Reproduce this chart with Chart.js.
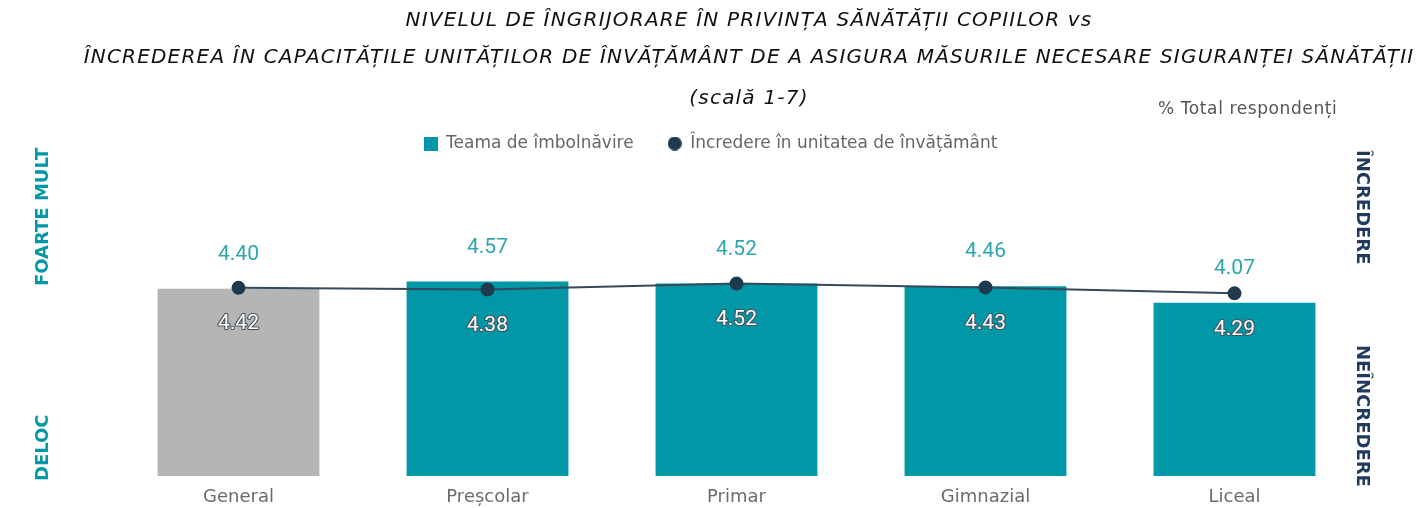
<!DOCTYPE html>
<html>
<head>
<meta charset="utf-8">
<script src="https://cdn.jsdelivr.net/npm/chart.js@4"></script>
<style>
  body { margin: 0; background: #fff; }
  #wrap { position: relative; width: 1418px; height: 508px; overflow: hidden; }
  #myChart { position: absolute; left: 0; top: 0; }
  .title { position: absolute; left: 749px; transform: translateX(-50%); white-space: nowrap;
           font-family: "DejaVu Sans", sans-serif; font-style: italic; font-size: 20px;
           letter-spacing: 1.2px; color: #111; }
  .note { position: absolute; left: 1158px; top: 98px; font-family: "DejaVu Sans", sans-serif;
          font-size: 17px; letter-spacing: 0.6px; color: #555; white-space: nowrap; }
  .side { position: absolute; font-family: "DejaVu Sans", sans-serif; font-weight: bold;
          font-size: 18px; white-space: nowrap; transform-origin: 0 0; }
  .left { color: #0097a7; transform: rotate(-90deg); }
  .right { color: #1f3a5c; transform: rotate(90deg); }
</style>
</head>
<body>
<div id="wrap">
  <canvas id="myChart" width="1418" height="508"></canvas>
  <div class="title" style="top:7px">NIVELUL DE ÎNGRIJORARE ÎN PRIVINȚA SĂNĂTĂȚII COPIILOR vs</div>
  <div class="title" style="top:44px">ÎNCREDEREA ÎN CAPACITĂȚILE UNITĂȚILOR DE ÎNVĂȚĂMÂNT DE A ASIGURA MĂSURILE NECESARE SIGURANȚEI SĂNĂTĂȚII</div>
  <div class="title" style="top:85px">(scală 1-7)</div>
  <div class="note">% Total respondenți</div>
  <div class="side left" style="left:31px; top:286px">FOARTE MULT</div>
  <div class="side left" style="left:31px; top:481px">DELOC</div>
  <div class="side right" style="left:1374px; top:150px">ÎNCREDERE</div>
  <div class="side right" style="left:1374px; top:345px">NEÎNCREDERE</div>
</div>
<script>
const categories = ["General", "Preșcolar", "Primar", "Gimnazial", "Liceal"];
const fearValues = [4.40, 4.57, 4.52, 4.46, 4.07];
const trustValues = [4.42, 4.38, 4.52, 4.43, 4.29];
const seriesNames = ["Teama de îmbolnăvire", "Încredere în unitatea de învățământ"];

const teal = "#0097a7";
const gray = "#b5b5b5";
const navy = "#1f3a4f";

// small legend markers, same size for square and dot
function marker(shape, color) {
  const c = document.createElement('canvas');
  c.width = 14;
  c.height = 14;
  const g = c.getContext('2d');
  g.fillStyle = color;
  if (shape === 'square') {
    g.fillRect(0, 0, 14, 14);
  } else {
    g.beginPath();
    g.arc(7, 7, 7, 0, Math.PI * 2);
    g.fill();
  }
  return c;
}
const squareMark = marker('square', teal);
const dotMark = marker('dot', navy);

// legend is a bit taller in the original, push the plot down
const legendSpacer = {
  id: 'legendSpacer',
  beforeInit(chart) {
    const origFit = chart.legend.fit;
    chart.legend.fit = function fit() {
      origFit.bind(chart.legend)();
      this.height += 16;
    };
  }
};

// value labels: bar values above the bars, trust values under the points
const valueLabels = {
  id: 'valueLabels',
  afterDatasetsDraw(chart) {
    const ctx = chart.ctx;
    ctx.save();
    ctx.textAlign = 'center';
    ctx.textBaseline = 'middle';
    ctx.font = '21px Roboto';

    chart.getDatasetMeta(0).data.forEach((bar, i) => {
      ctx.fillStyle = '#2ea6ae';
      ctx.fillText(fearValues[i].toFixed(2), bar.x, bar.y - 34);
    });

    chart.getDatasetMeta(1).data.forEach((pt, i) => {
      const txt = trustValues[i].toFixed(2);
      ctx.lineWidth = 2.2;
      ctx.strokeStyle = '#45525c';
      ctx.lineJoin = 'round';
      ctx.strokeText(txt, pt.x, pt.y + 36);
      ctx.fillStyle = '#fff';
      ctx.fillText(txt, pt.x, pt.y + 36);
    });
    ctx.restore();
  }
};

new Chart("myChart", {
  type: "bar",
  data: {
    labels: categories,
    datasets: [{
      type: "bar",
      label: seriesNames[0],
      data: fearValues,
      backgroundColor: ctx => ctx.dataIndex === 0 ? gray : teal,
      barPercentage: 0.65,
      categoryPercentage: 1,
      order: 2
    }, {
      type: "line",
      label: seriesNames[1],
      data: trustValues,
      borderColor: "#34495a",
      borderWidth: 2,
      backgroundColor: navy,
      pointBackgroundColor: navy,
      pointBorderColor: navy,
      pointRadius: 6,
      tension: 0,
      order: 1
    }]
  },
  options: {
    responsive: false,
    animation: false,
    layout: { padding: { top: 101, left: 62, right: 59, bottom: 0 } },
    plugins: {
      title: { display: false },
      tooltip: { enabled: false },
      legend: {
        display: true,
        position: 'top',
        labels: {
          usePointStyle: true,
          boxWidth: 14,
          boxHeight: 14,
          padding: 34,
          color: '#666',
          font: { family: 'DejaVu Sans', size: 17 },
          generateLabels(chart) {
            const items = Chart.defaults.plugins.legend.labels.generateLabels(chart);
            items.forEach(it => {
              it.pointStyle = it.datasetIndex === 0 ? squareMark : dotMark;
            });
            return items;
          },
          sort: (a, b) => a.datasetIndex - b.datasetIndex
        }
      }
    },
    scales: {
      x: {
        grid: { display: false, drawTicks: false },
        border: { display: false },
        ticks: { color: '#6b6b6b', padding: 11, font: { family: 'DejaVu Sans', size: 18 } },
        afterFit(scale) { scale.height = 32; }
      },
      y: {
        min: 0,
        max: 7,
        grid: { display: false, drawTicks: false },
        border: { display: false },
        ticks: { display: false },
        afterFit(scale) { scale.width = 52; }
      }
    }
  },
  plugins: [legendSpacer, valueLabels]
});
</script>
</body>
</html>
